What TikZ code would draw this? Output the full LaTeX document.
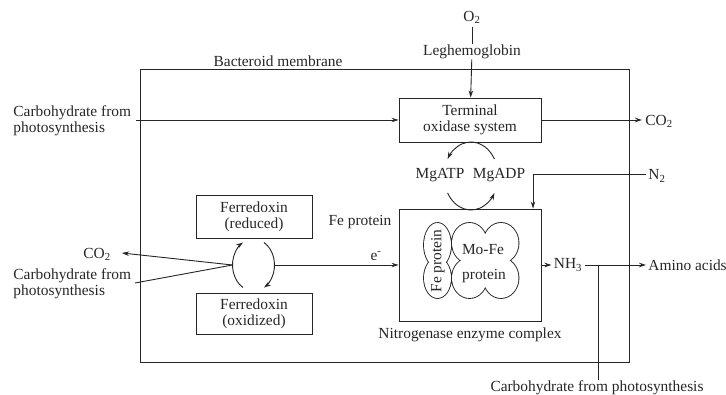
\documentclass[tikz,border=0pt]{standalone}
\usepackage{fontspec}
\setmainfont{Liberation Serif}
\usetikzlibrary{arrows.meta}
\definecolor{ink}{HTML}{262626}
\begin{document}
\begin{tikzpicture}[x=1pt,y=-1pt,line width=0.9pt,draw=ink,
  every node/.style={font=\fontsize{15.4}{16}\selectfont, inner sep=0pt, text=ink},
  box/.style={draw=ink, line width=0.9pt, align=center},
  arr/.style={-{Stealth[length=7pt,width=4.5pt]}}]
\useasboundingbox (0,0) rectangle (726,395);
\fill[white] (0,0) rectangle (726,395);

% membrane
\node[draw=ink, minimum width=489pt, minimum height=293pt] (mem) at (384.5,215.5) {};
\node (memlbl) at (278,61) {Bacteroid membrane};

% top
\node (o2) at (472,17) {O\textsubscript{2}};
\node (leg) at (472,52) {Leghemoglobin};
\node[box, minimum width=142pt, minimum height=44pt] (term) at (470,120) {Terminal\\oxidase system};
\node[align=left, anchor=west] (carb1) at (13,121) {Carbohydrate from\\photosynthesis};
\coordinate (c1) at (136,120);
\node[anchor=west] (co2r) at (645,121) {CO\textsubscript{2}};
\draw[shorten <=3pt, shorten >=1pt] (o2) -- (leg);
\draw[arr] (leg) -- (term);
\draw[arr] (c1) -- (term);
\draw[arr, shorten >=3pt] (term.east) -- (term.east -| co2r.west);

% MgATP cycle
\coordinate (mg) at (471,176);
\node (atp) at (440,175) {MgATP};
\node (adp) at (499,175) {MgADP};
\draw[arr] (mg) ++(-30:27 and 34) arc[start angle=-30, end angle=-150, x radius=27, y radius=34];
\draw[arr] (mg) ++(150:27 and 34) arc[start angle=150, end angle=30, x radius=27, y radius=34];

% nitrogenase
\node[box, minimum width=142pt, minimum height=112pt] (nit) at (470,265) {};
\node (nitl) at (470,335) {Nitrogenase enzyme complex};
\node (fepl) at (360,222) {Fe protein};
\node (em) at (376,256) {e\textsuperscript{-}};

\draw[line width=1.8pt]
  (437.5,245) ellipse[x radius=13.5, y radius=22]
  (437.5,278) ellipse[x radius=13.5, y radius=20]
  (469.5,243) ellipse[x radius=17.5, y radius=20]
  (501,243) ellipse[x radius=17.5, y radius=20]
  (469.5,278) ellipse[x radius=17.5, y radius=20]
  (501,278) ellipse[x radius=17.5, y radius=20];
\fill[white]
  (437.5,245) ellipse[x radius=13.5, y radius=22]
  (437.5,278) ellipse[x radius=13.5, y radius=20]
  (469.5,243) ellipse[x radius=17.5, y radius=20]
  (501,243) ellipse[x radius=17.5, y radius=20]
  (469.5,278) ellipse[x radius=17.5, y radius=20]
  (501,278) ellipse[x radius=17.5, y radius=20];
\fill[white] (474,248) rectangle (496,273);
\node[rotate=90] (fep) at (438,261) {Fe protein};
\node (mofe1) at (483,250) {Mo-Fe};
\node (mofe2) at (484,276) {protein};

% N2
\node[anchor=west] (n2) at (648,176) {N\textsubscript{2}};
\coordinate (n2c) at (533,174);
\draw[arr, shorten <=2pt] (n2.west |- n2c) -- (n2c) -- (n2c |- nit.north);

% ferredoxin
\node[box, minimum width=116pt, minimum height=43pt] (fdrb) at (254,216.5) {Ferredoxin\\(reduced)};
\node[box, minimum width=116pt, minimum height=41pt] (fdob) at (254,313.5) {Ferredoxin\\(oxidized)};
\coordinate (fd) at (253.5,265);
\draw[arr] (fd) ++(120:21 and 26) arc[start angle=120, end angle=240, x radius=21, y radius=26];
\draw[arr] (fd) ++(-60:21 and 26) arc[start angle=-60, end angle=60, x radius=21, y radius=26];
\coordinate (fdr) at (274.5,265);
\coordinate (fdl) at (232.5,265);
\draw[arr] (fdr) -- (fdr -| nit.west);

% left CO2 / carbohydrate
\node (co2l) at (97,254) {CO\textsubscript{2}};
\node[align=left, anchor=west] (carb2) at (13,284) {Carbohydrate from\\photosynthesis};
\coordinate (co2tip) at (122,253);
\coordinate (c2) at (135,283);
\draw[arr] (fdl) -- (co2tip);
\draw (c2) -- (fdl);

% NH3
\node (nh3) at (568,265) {NH\textsubscript{3}};
\coordinate (j) at (598,265);
\node[anchor=west] (amino) at (648,265) {Amino acids};
\node (carb3) at (597,388) {Carbohydrate from photosynthesis};
\draw[arr, shorten >=2pt] (nit.east) -- (nit.east -| nh3.west);
\draw[arr, shorten <=2pt, shorten >=2pt] (nh3.east |- j) -- (amino.west |- j);
\draw (j) -- (j |- carb3.north);
\end{tikzpicture}
\end{document}
